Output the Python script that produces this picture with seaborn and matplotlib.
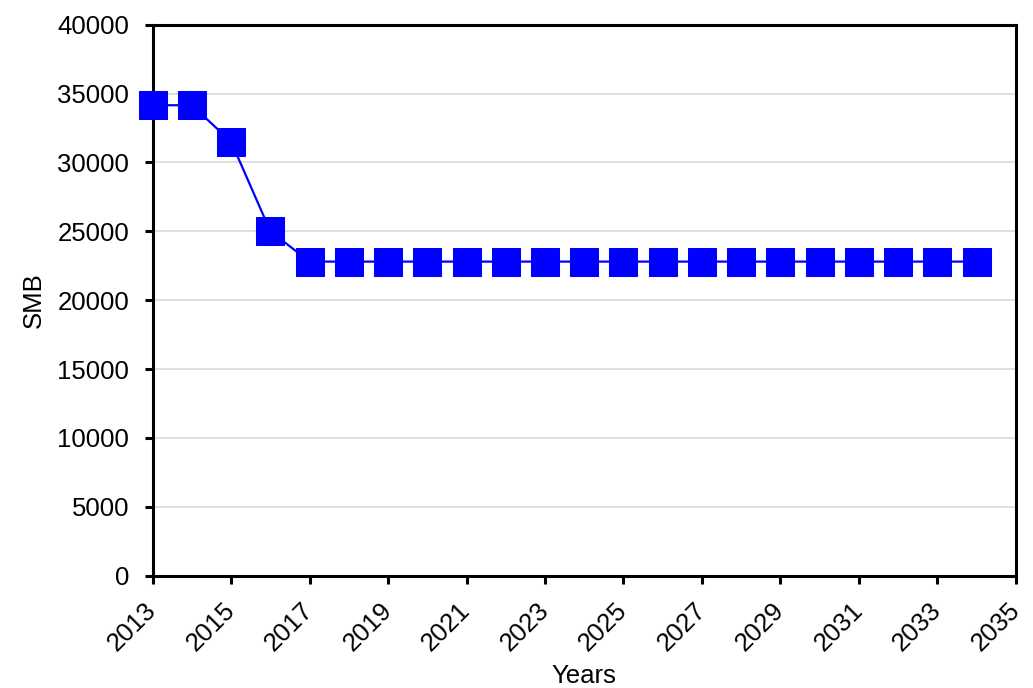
import matplotlib
matplotlib.use("Agg")
import matplotlib.pyplot as plt
import matplotlib.transforms as mtransforms
import seaborn as sns
import pandas as pd

years = list(range(2013, 2035))
smb = [34150, 34150, 31500, 25000] + [22800] * 18

sns.set_theme(style="white")
plt.rcParams["font.family"] = ["Liberation Sans", "DejaVu Sans"]

df = pd.DataFrame({"Years": years, "SMB": smb})

fig = plt.figure(figsize=(10.33, 6.88), dpi=100)
ax = fig.add_axes([0.1478, 0.1632, 0.8355, 0.801])

sns.lineplot(data=df, x="Years", y="SMB", ax=ax, color="#0000FF",
             linewidth=1.6, marker="s", markersize=20,
             markeredgecolor="#0000FF", markerfacecolor="#0000FF",
             clip_on=False, zorder=5)

ax.set_xlim(2013, 2035)
ax.set_ylim(0, 40000)
ax.set_xticks(range(2013, 2036, 2))
ax.set_yticks(range(0, 40001, 5000))
ax.yaxis.grid(True, color="#d9d9d9", linewidth=1.2)
ax.xaxis.grid(False)
ax.set_axisbelow(True)

for s in ax.spines.values():
    s.set_visible(True)
    s.set_color("black")
    s.set_linewidth(2.2)

ax.tick_params(axis="both", which="major", direction="out", length=6,
               width=2.2, color="black", labelsize=18.5, labelcolor="black",
               bottom=True, left=True)
ax.tick_params(axis="y", pad=11)
ax.tick_params(axis="x", pad=10)

# rotated year labels, nudged left so they sit under their ticks
shift = mtransforms.ScaledTranslation(-6 / 72, 0, fig.dpi_scale_trans)
for lbl in ax.get_xticklabels():
    lbl.set_rotation(45)
    lbl.set_ha("right")
    lbl.set_rotation_mode("anchor")
    lbl.set_transform(lbl.get_transform() + shift)

ax.set_xlabel("Years", fontsize=18.5, color="black", labelpad=6)
ax.set_ylabel("SMB", fontsize=18.5, color="black", labelpad=8)

fig.savefig("out.png", dpi=100, facecolor="white")
